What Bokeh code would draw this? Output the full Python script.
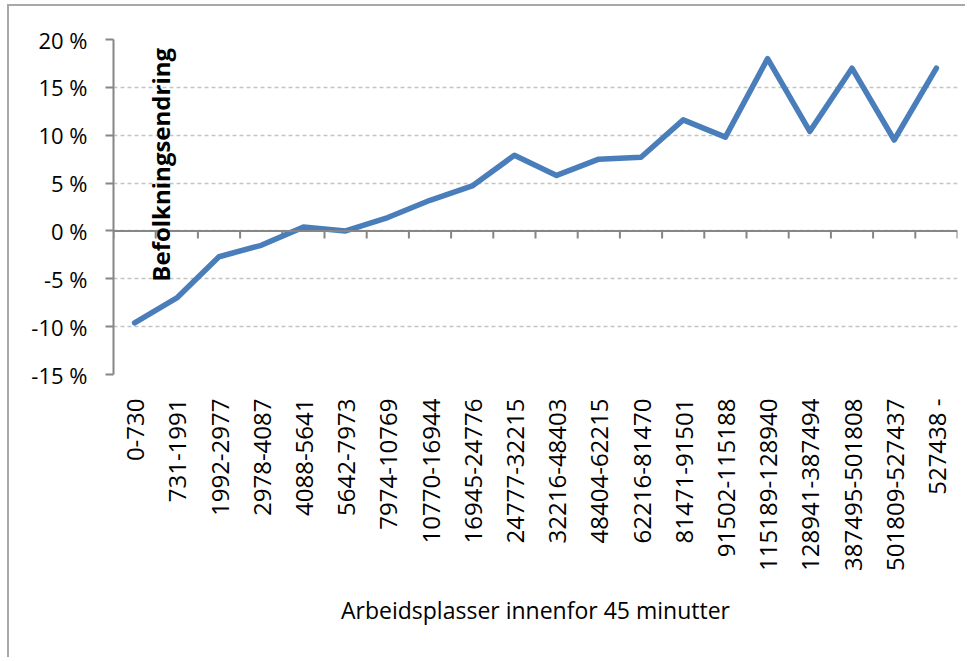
from math import pi
from bokeh.plotting import figure
from bokeh.models import Range1d, FixedTicker, PrintfTickFormatter, Label, Span
from bokeh.embed import file_html
from bokeh.resources import INLINE

categories = ["0-730", "731-1991", "1992-2977", "2978-4087", "4088-5641", "5642-7973",
              "7974-10769", "10770-16944", "16945-24776", "24777-32215", "32216-48403",
              "48404-62215", "62216-81470", "81471-91501", "91502-115188", "115189-128940",
              "128941-387494", "387495-501808", "501809-527437", "527438 -"]
change_pct = [-9.6, -7.0, -2.7, -1.5, 0.4, 0.0, 1.4, 3.2, 4.7, 7.9, 5.8, 7.5, 7.7,
              11.6, 9.8, 18.0, 10.4, 17.0, 9.5, 17.0]
y_ticks = [-15, -10, -5, 0, 5, 10, 15, 20]
y_title = "Befolkningsendring"
x_title = "Arbeidsplasser innenfor 45 minutter"

FONT = "Open Sans"
AXIS_GRAY = "#868686"

n = len(categories)
x_pos = [i + 0.5 for i in range(n)]          # category centres
boundaries = list(range(n + 1))              # category boundaries

p = figure(width=958, height=653,
           x_range=Range1d(0, n), y_range=Range1d(-15, 20),
           output_backend="svg", toolbar_location=None,
           min_border_left=104, min_border_right=10,
           min_border_top=33, min_border_bottom=285)
p.outline_line_color = None
p.background_fill_color = "white"
p.border_fill_color = "white"
p.styles = {"border-left": "2px solid #a8a8a8", "border-top": "2px solid #a8a8a8",
            "margin-left": "7px", "margin-top": "4px"}

# category label axis (bottom)
xa = p.xaxis[0]
xa.ticker = FixedTicker(ticks=x_pos)
xa.major_label_overrides = {x: c for x, c in zip(x_pos, categories)}
xa.major_label_orientation = pi / 2
xa.major_tick_line_color = None
xa.minor_tick_line_color = None
xa.axis_line_color = None
xa.major_label_standoff = 18
xa.major_label_text_font = FONT
xa.major_label_text_font_size = "24px"
xa.major_label_text_color = "#000000"
xa.axis_label = x_title
xa.axis_label_text_font = FONT
xa.axis_label_text_font_style = "normal"
xa.axis_label_text_font_size = "23px"
xa.axis_label_text_color = "#000000"
xa.axis_label_standoff = 20

# y axis
ya = p.yaxis[0]
ya.ticker = FixedTicker(ticks=y_ticks)
ya.formatter = PrintfTickFormatter(format="%d %%")
ya.axis_line_color = AXIS_GRAY
ya.axis_line_width = 2
ya.major_tick_line_color = AXIS_GRAY
ya.major_tick_line_width = 2
ya.major_tick_in = 0
ya.major_tick_out = 8
ya.minor_tick_line_color = None
ya.major_label_standoff = 18
ya.major_label_text_font = FONT
ya.major_label_text_font_size = "22px"
ya.major_label_text_color = "#000000"

p.xgrid.grid_line_color = None
p.ygrid.ticker = FixedTicker(ticks=y_ticks)
p.ygrid.grid_line_color = "#c4c4c4"
p.ygrid.grid_line_dash = "4 3"
p.ygrid.grid_line_width = 1.5

# horizontal axis line at zero with tick marks between categories
p.add_layout(Span(location=0, dimension="width", line_color=AXIS_GRAY, line_width=2))
p.segment(x0=boundaries, y0=[0] * len(boundaries), x1=boundaries, y1=[-0.8] * len(boundaries),
          line_color=AXIS_GRAY, line_width=2)

p.line(x_pos, change_pct, line_color="#4a7ebb", line_width=5.5,
       line_join="round", line_cap="round")

p.add_layout(Label(x=1.12, y=-5.3, text=y_title, angle=pi / 2,
                   text_align="left", text_baseline="middle",
                   text_font=FONT, text_font_style="bold",
                   text_font_size="24px", text_color="#000000"))

open("out.html", "w").write(file_html(p, INLINE))
